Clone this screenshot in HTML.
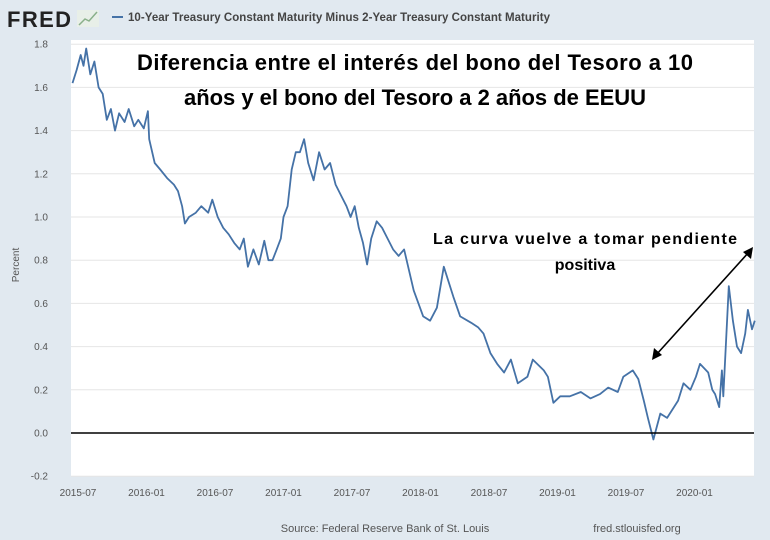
<!DOCTYPE html>
<html><head><meta charset="utf-8"><style>
body{margin:0;background:#e1e9f0;}
svg{display:block;font-family:"Liberation Sans",sans-serif;}
</style></head><body>
<svg id="chart" width="770" height="540">
<rect width="770" height="540" fill="#e1e9f0"/>
<text x="7" y="27" font-size="22" font-weight="bold" fill="#222" textLength="64">FRED</text>
<g><rect x="77" y="10" width="22" height="17" fill="#e8efe8"/><polyline points="79,25 85,19 89,21 97,12" fill="none" stroke="#8ab08a" stroke-width="1.5"/></g>
<line x1="112" y1="17" x2="123" y2="17" stroke="#4572a7" stroke-width="2"/>
<text x="128" y="21" font-size="11.5" font-weight="bold" fill="#444" textLength="422">10-Year Treasury Constant Maturity Minus 2-Year Treasury Constant Maturity</text>
<rect x="71" y="40" width="683" height="436" fill="#fff"/>
<g id="grid"></g><g id="yticks"></g><g id="xticks"></g>
<text transform="translate(19,265) rotate(-90)" text-anchor="middle" font-size="10" fill="#555">Percent</text>
<polyline id="series" fill="none" stroke="#4572a7" stroke-width="1.8" stroke-linejoin="round"/>
<line id="zero" x1="71" x2="754" stroke="#000" stroke-width="1.5"/>
<text x="415" y="70" text-anchor="middle" font-size="22" font-weight="bold" fill="#000" textLength="556">Diferencia entre el interés del bono del Tesoro a 10</text>
<text x="415" y="105" text-anchor="middle" font-size="22" font-weight="bold" fill="#000" textLength="462">años y el bono del Tesoro a 2 años de EEUU</text>
<text x="585" y="244" text-anchor="middle" font-size="16" font-weight="bold" fill="#000" textLength="304">La curva vuelve a tomar pendiente</text>
<text x="585" y="270" text-anchor="middle" font-size="16" font-weight="bold" fill="#000">positiva</text>
<g>
<line x1="656" y1="355" x2="749" y2="252" stroke="#000" stroke-width="1.6"/>
<polygon points="652,360 654,348 662,355" fill="#000"/>
<polygon points="753,247 751,259 743,252" fill="#000"/>
</g>
<text x="385" y="532" text-anchor="middle" font-size="11" fill="#555">Source: Federal Reserve Bank of St. Louis</text>
<text x="637" y="532" text-anchor="middle" font-size="11" fill="#555">fred.stlouisfed.org</text>
</svg>
<script>
const dates=[2015.46,2015.49,2015.52,2015.54,2015.56,2015.59,2015.62,2015.65,2015.68,2015.71,2015.74,2015.77,2015.80,2015.84,2015.87,2015.91,2015.94,2015.98,2016.01,2016.02,2016.06,2016.10,2016.15,2016.20,2016.23,2016.26,2016.28,2016.31,2016.36,2016.40,2016.45,2016.48,2016.52,2016.56,2016.60,2016.64,2016.68,2016.71,2016.74,2016.78,2016.82,2016.86,2016.89,2016.92,2016.95,2016.98,2017.00,2017.03,2017.06,2017.09,2017.12,2017.15,2017.18,2017.22,2017.26,2017.30,2017.34,2017.38,2017.42,2017.46,2017.49,2017.52,2017.55,2017.58,2017.61,2017.64,2017.68,2017.72,2017.76,2017.80,2017.84,2017.88,2017.95,2018.02,2018.07,2018.12,2018.17,2018.24,2018.29,2018.37,2018.42,2018.46,2018.51,2018.56,2018.61,2018.66,2018.71,2018.78,2018.82,2018.90,2018.93,2018.97,2019.02,2019.09,2019.17,2019.24,2019.31,2019.37,2019.44,2019.48,2019.55,2019.59,2019.63,2019.66,2019.70,2019.75,2019.80,2019.88,2019.92,2019.97,2020.01,2020.04,2020.10,2020.13,2020.15,2020.18,2020.20,2020.21,2020.23,2020.25,2020.28,2020.31,2020.34,2020.37,2020.39,2020.42,2020.44];
const values=[1.62,1.68,1.75,1.70,1.78,1.66,1.72,1.60,1.57,1.45,1.50,1.40,1.48,1.44,1.50,1.42,1.45,1.41,1.49,1.36,1.25,1.22,1.18,1.15,1.12,1.05,0.97,1.00,1.02,1.05,1.02,1.08,1.00,0.95,0.92,0.88,0.85,0.90,0.77,0.85,0.78,0.89,0.80,0.80,0.85,0.90,1.00,1.05,1.22,1.30,1.30,1.36,1.25,1.17,1.30,1.22,1.25,1.15,1.10,1.05,1.00,1.05,0.95,0.88,0.78,0.90,0.98,0.95,0.90,0.85,0.82,0.85,0.66,0.54,0.52,0.58,0.77,0.63,0.54,0.51,0.49,0.46,0.37,0.32,0.28,0.34,0.23,0.26,0.34,0.29,0.26,0.14,0.17,0.17,0.19,0.16,0.18,0.21,0.19,0.26,0.29,0.25,0.15,0.07,-0.03,0.09,0.07,0.15,0.23,0.20,0.26,0.32,0.28,0.20,0.18,0.12,0.29,0.17,0.42,0.68,0.52,0.40,0.37,0.46,0.57,0.48,0.52,0.71];
const yTicks=[-0.2,0.0,0.2,0.4,0.6,0.8,1.0,1.2,1.4,1.6,1.8];
const xTickLabels=["2015-07","2016-01","2016-07","2017-01","2017-07","2018-01","2018-07","2019-01","2019-07","2020-01"];
const xTickValues=[2015.5,2016.0,2016.5,2017.0,2017.5,2018.0,2018.5,2019.0,2019.5,2020.0];
const NS="http://www.w3.org/2000/svg";
function xs(t){return 78+(t-2015.5)*137;}
function ys(v){return 433-v*216;}
const grid=document.getElementById('grid'),yt=document.getElementById('yticks'),xt=document.getElementById('xticks');
yTicks.forEach(v=>{
 const l=document.createElementNS(NS,'line');
 l.setAttribute('x1',71);l.setAttribute('x2',754);l.setAttribute('y1',ys(v));l.setAttribute('y2',ys(v));
 l.setAttribute('stroke','#e6e6e6');l.setAttribute('stroke-width','1');
 
 
 grid.appendChild(l);
 const t=document.createElementNS(NS,'text');
 t.setAttribute('x',48);t.setAttribute('y',ys(v)+3.5);t.setAttribute('text-anchor','end');
 t.setAttribute('font-size','10');t.setAttribute('fill','#555');t.textContent=v.toFixed(1);
 
 
 yt.appendChild(t);
});
xTickValues.forEach((v,i)=>{
 const t=document.createElementNS(NS,'text');
 t.setAttribute('x',xs(v));t.setAttribute('y',496);t.setAttribute('text-anchor','middle');
 t.setAttribute('font-size','10');t.setAttribute('fill','#555');t.textContent=xTickLabels[i];
 
 
 xt.appendChild(t);
});
document.getElementById('series').setAttribute('points',dates.map((d,i)=>xs(d).toFixed(1)+','+ys(values[i]).toFixed(1)).join(' '));
const z=document.getElementById('zero');z.setAttribute('y1',ys(0));z.setAttribute('y2',ys(0));
</script>
</body></html>
